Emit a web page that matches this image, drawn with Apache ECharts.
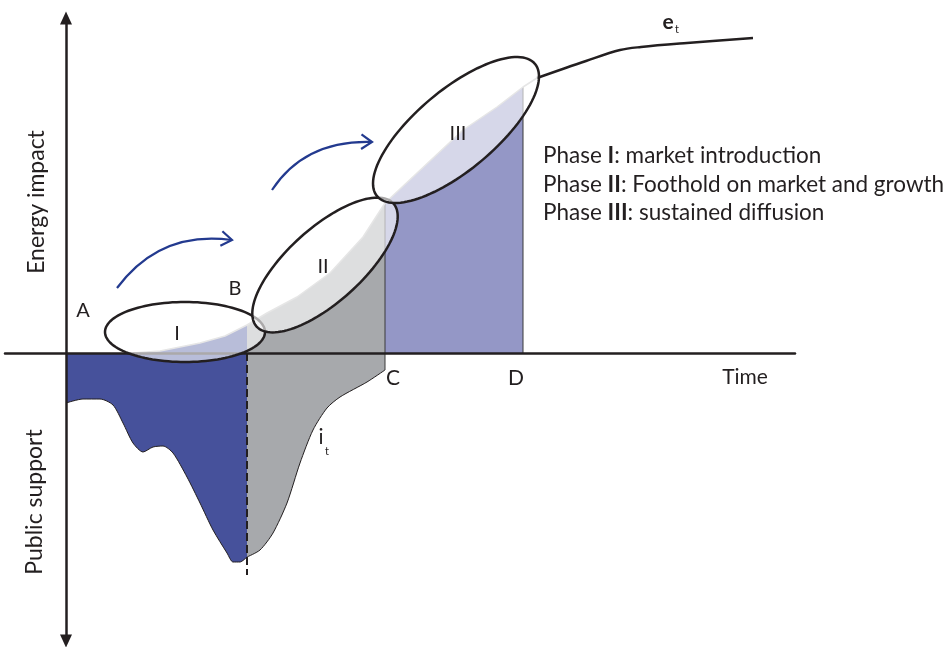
<!DOCTYPE html>
<html>
<head>
<meta charset="utf-8">
<title>Energy impact vs public support</title>
<script src="https://cdn.jsdelivr.net/npm/echarts@6/dist/echarts.min.js"></script>
<style>
  html, body { margin: 0; padding: 0; background: #fff; }
  #main { width: 949px; height: 647px; }
</style>
</head>
<body>
<div id="main"></div>
<script>
// energy impact curve e_t (time, impact), one unit = one pixel
var etX = [67, 94, 134, 159, 181, 201, 231, 264, 297, 319, 351, 397, 431, 457, 471];
var etY = [0, 2, 10, 17, 28, 40, 56, 80, 116, 150, 180, 223, 246, 266, 275];
// e_t after phase III
var etTailX = [471, 520, 554, 575, 621, 687];
var etTailY = [275, 292, 303, 306, 310, 315];
// public support curve i_t (negative = support)
var itX = [0, 17, 34, 47, 57, 67, 77, 87, 97, 107, 121, 134, 147, 161, 167, 174, 181, 194, 207, 221, 234, 247, 261, 274, 301, 319];
var itY = [-50, -46, -46, -52, -70, -90, -99, -94, -93, -100, -124, -150, -177, -200, -209, -209, -204, -197, -180, -150, -110, -77, -55, -44, -29, -17];
// phase boundaries B, C, D on the time axis
var phaseB = 181, phaseC = 319, phaseD = 457;
var dashBottom = -222;
// phase ellipses: centre x, centre y, half axes, tilt (deg)
var ellipses = [[119, 21, 80, 30, 0], [259, 88, 92, 37, 42], [390, 223, 103, 40, 40]];
// blue arrows: start, control, end
var arrows = [[51, 65, 94, 123, 166, 113], [206, 163, 239, 213, 306, 211]];
// point labels
var labelText = ['A', 'B', 'C', 'D', 'Time', 'I', 'II', 'III'];
var labelX = [17, 169, 327, 450, 679, 111, 257, 392];
var labelY = [42, 64, -25, -25, -24, 19, 86, 219];
var phaseText = ['Phase {b|I}: market introduction', 'Phase {b|II}: Foothold on market and growth', 'Phase {b|III}: sustained diffusion'];
var phaseY = [197, 168, 140];
var phaseX = 477;

var ink = '#231f20';
var font = 'Lato, "Open Sans", sans-serif';

function pairs(xs, ys, x0, x1) {
    var out = [];
    for (var i = 0; i < xs.length; i++) {
        if (xs[i] >= x0 && xs[i] <= x1) out.push([xs[i], ys[i]]);
    }
    return out;
}

function fillSeries(data, color, withLine) {
    return {
        type: 'line',
        data: data,
        symbol: 'none',
        smooth: withLine ? 0.25 : false,
        z: 2,
        lineStyle: withLine ? { color: ink, width: 1 } : { width: 0 },
        areaStyle: { color: color, opacity: 1 }
    };
}

function plainLine(data, color, width, type, z) {
    return {
        type: 'line',
        data: data,
        symbol: 'none',
        z: z || 3,
        lineStyle: { color: color, width: width, type: type || 'solid' }
    };
}

function valueAt(xs, ys, x) {
    for (var i = 0; i < xs.length; i++) if (xs[i] === x) return ys[i];
    return 0;
}

function renderEllipse(params, api) {
    var cx = api.value(0), cy = api.value(1), rx = api.value(2), ry = api.value(3);
    var a = api.value(4) * Math.PI / 180;
    var pts = [];
    for (var i = 0; i < 120; i++) {
        var t = i / 120 * Math.PI * 2;
        var px = cx + rx * Math.cos(t) * Math.cos(a) - ry * Math.sin(t) * Math.sin(a);
        var py = cy + rx * Math.cos(t) * Math.sin(a) + ry * Math.sin(t) * Math.cos(a);
        pts.push(api.coord([px, py]));
    }
    return {
        type: 'polygon',
        shape: { points: pts },
        style: { fill: 'rgba(255,255,255,0.62)', stroke: ink, lineWidth: 2.5 }
    };
}

function renderArrow(params, api) {
    var p0 = api.coord([api.value(0), api.value(1)]);
    var c = api.coord([api.value(2), api.value(3)]);
    var p1 = api.coord([api.value(4), api.value(5)]);
    var ang = Math.atan2(p1[1] - c[1], p1[0] - c[0]);
    var len = 13;
    var w1 = [p1[0] - len * Math.cos(ang - 0.6), p1[1] - len * Math.sin(ang - 0.6)];
    var w2 = [p1[0] - len * Math.cos(ang + 0.6), p1[1] - len * Math.sin(ang + 0.6)];
    var st = { stroke: '#233a8f', lineWidth: 2.2, fill: null };
    return {
        type: 'group',
        children: [
            { type: 'bezierCurve', shape: { x1: p0[0], y1: p0[1], x2: p1[0], y2: p1[1], cpx1: c[0], cpy1: c[1] }, style: st },
            { type: 'polyline', shape: { points: [w1, p1, w2] }, style: st }
        ]
    };
}

function renderLabel(params, api) {
    var p = api.coord([api.value(0), api.value(1)]);
    var txt = labelText[params.dataIndex];
    var size = (txt === 'C' || txt === 'D' || txt === 'Time') ? 21 : 20;
    return {
        type: 'text', x: p[0], y: p[1],
        style: { text: txt, fill: ink, fontSize: size, fontFamily: font, align: 'center', verticalAlign: 'middle' }
    };
}

function renderPhase(params, api) {
    var p = api.coord([api.value(0), api.value(1)]);
    return {
        type: 'text', x: p[0], y: p[1],
        style: {
            text: phaseText[params.dataIndex], fill: ink, fontSize: 22.5, fontFamily: font,
            align: 'left', verticalAlign: 'middle',
            rich: { b: { fontSize: 22.5, fontFamily: font, fontWeight: 'bold', fill: ink } }
        }
    };
}

// axis titles and curve names
var extraText = [
    { t: 'Energy impact', x: -29, y: 151, rot: Math.PI / 2, size: 23 },
    { t: 'Public support', x: -31, y: -149, rot: Math.PI / 2, size: 23 },
    { t: 'e', x: 602, y: 331, rot: 0, size: 21, bold: true },
    { t: 't', x: 611, y: 324, rot: 0, size: 11 },
    { t: 'i', x: 255, y: -84, rot: 0, size: 21 },
    { t: 't', x: 261, y: -98, rot: 0, size: 11 }
];

function renderExtra(params, api) {
    var d = extraText[params.dataIndex];
    var p = api.coord([api.value(0), api.value(1)]);
    return {
        type: 'text', x: p[0], y: p[1], rotation: d.rot,
        style: {
            text: d.t, fill: ink, fontSize: d.size, fontFamily: font,
            fontWeight: d.bold ? 'bold' : 'normal', align: 'center', verticalAlign: 'middle'
        }
    };
}

var phaseData = [];
for (var i = 0; i < phaseText.length; i++) phaseData.push([phaseX, phaseY[i]]);
var labelData = [];
for (var j = 0; j < labelText.length; j++) labelData.push([labelX[j], labelY[j]]);
var extraData = extraText.map(function (d) { return [d.x, d.y]; });

var option = {
    backgroundColor: '#fff',
    animation: false,
    grid: { left: 5, right: 154, top: 18, bottom: 6 },
    xAxis: {
        type: 'value', min: -61, max: 729, z: 5,
        axisLine: { onZero: true, lineStyle: { color: ink, width: 2.5 } },
        axisTick: { show: false }, axisLabel: { show: false }, splitLine: { show: false }
    },
    yAxis: {
        type: 'value', min: -288, max: 335, z: 5,
        axisLine: {
            onZero: true, symbol: ['triangle', 'triangle'], symbolSize: [12, 13],
            lineStyle: { color: ink, width: 2.5 }
        },
        axisTick: { show: false }, axisLabel: { show: false }, splitLine: { show: false }
    },
    series: [
        fillSeries(pairs(etX, etY, etX[0], phaseB), '#46519b', false),
        fillSeries(pairs(etX, etY, phaseB, phaseC), '#a7a9ac', false),
        fillSeries(pairs(etX, etY, phaseC, phaseD), '#9497c6', false),
        fillSeries(pairs(itX, itY, 0, phaseB), '#46519b', true),
        fillSeries(pairs(itX, itY, phaseB, phaseC), '#a7a9ac', true),
        plainLine([[phaseB, 0], [phaseB, dashBottom]], ink, 2, 'dashed', 4),
        plainLine([[phaseC, valueAt(itX, itY, phaseC)], [phaseC, valueAt(etX, etY, phaseC)]], '#3a3a3a', 1),
        plainLine([[phaseD, 0], [phaseD, valueAt(etX, etY, phaseD)]], '#3a3a3a', 1),
        plainLine(pairs(etX, etY, etX[0], etX[etX.length - 1]), '#bdbdbd', 1.5),
        {
            type: 'line', symbol: 'none', smooth: 0.35, z: 3,
            data: pairs(etTailX, etTailY, etTailX[0], etTailX[etTailX.length - 1]),
            lineStyle: { color: ink, width: 2.5 }
        },
        { type: 'custom', z: 6, renderItem: renderEllipse, data: ellipses },
        { type: 'custom', z: 7, renderItem: renderArrow, data: arrows },
        { type: 'custom', z: 8, renderItem: renderLabel, data: labelData },
        { type: 'custom', z: 8, renderItem: renderPhase, data: phaseData },
        { type: 'custom', z: 8, renderItem: renderExtra, data: extraData }
    ]
};

var myChart = echarts.init(document.getElementById('main'));
myChart.setOption(option);
</script>
</body>
</html>
